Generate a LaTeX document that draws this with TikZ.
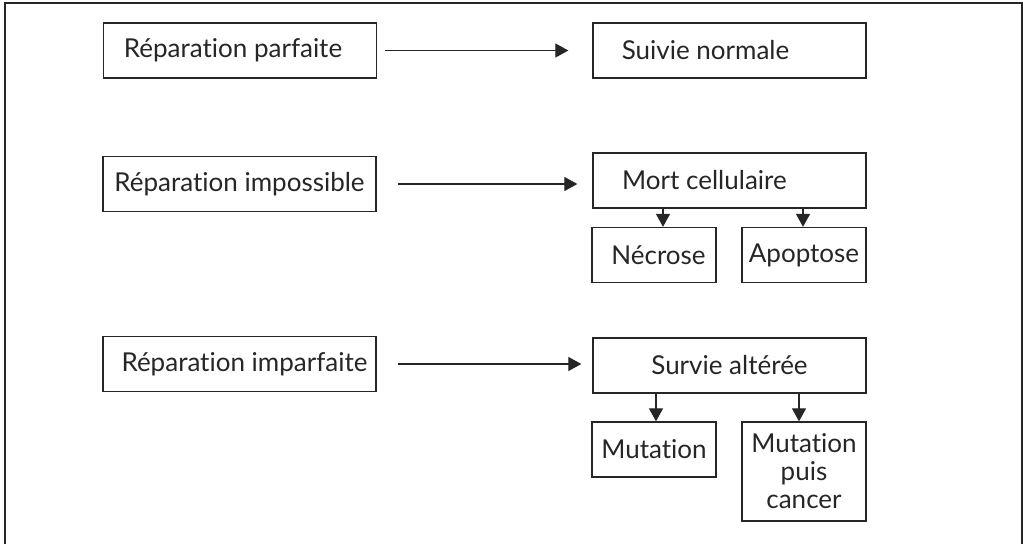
\documentclass[tikz,border=0pt]{standalone}
\usepackage{fontspec}
\setmainfont{Lato}[Ligatures=NoCommon]
\usetikzlibrary{arrows.meta}

\tikzset{
  box/.style={draw=black!85, line width=1.3pt, minimum width=273pt, minimum height=55pt, inner sep=0pt, align=center},
  smallbox/.style={box, minimum width=124pt},
  arr/.style={draw=black!85, line width=1.2pt, -{Triangle[length=13pt,width=14pt]}},
}

\begin{document}
\begin{tikzpicture}[x=1pt, y=-1pt, font=\fontsize{26}{28}\selectfont\color{black!85}]
	\useasboundingbox (0,0) rectangle (1023,544);
	% frame, open at the bottom
	\draw [line width=2.6pt, black!85] (5,544) -- (5,3) -- (1022,3) -- (1022,544);
	% first row
	\node[box] (rp) at (240,50.5) {\hspace*{-14pt}Réparation parfaite};
	\node[box] (sn) at (729.5,50.5) {\hspace*{-48pt}Suivie normale};
	\draw [arr, shorten <=8pt, shorten >=24pt] (rp.east) -- (rp.east -| sn.west);
	% second row
	\node[box] (ri) at (239.5,184) {Réparation impossible};
	\node[box] (mc) at (729.5,180.5) {\hspace*{-50pt}Mort cellulaire};
	\node[smallbox] (nec) at (654,255) {\hspace*{9pt}Nécrose};
	\node[smallbox] (apo) at (804,255) {Apoptose};
	\draw [arr, shorten <=21pt, shorten >=15pt] (ri.east) -- (ri.east -| mc.west);
	\draw [arr] ([xshift=9pt]nec.north |- mc.south) -- ([xshift=9pt]nec.north);
	\draw [arr] ([xshift=-1pt]apo.north |- mc.south) -- ([xshift=-1pt]apo.north);
	% third row
	\node[box] (rim) at (239.5,364) {\hspace*{10pt}Réparation imparfaite};
	\node[box] (sa) at (729.5,365.5) {Survie altérée};
	\node[smallbox] (mut) at (654,449.5) {Mutation};
	\node[smallbox, minimum height=99pt] (mpc) at (804,471.5) {Mutation\\puis\\cancer};
	\draw [arr, shorten <=21pt, shorten >=11pt] (rim.east) -- (rim.east -| sa.west);
	\draw [arr] ([xshift=2pt]mut.north |- sa.south) -- ([xshift=2pt]mut.north);
	\draw [arr] ([xshift=-5pt]mpc.north |- sa.south) -- ([xshift=-5pt]mpc.north);
\end{tikzpicture}
\end{document}
